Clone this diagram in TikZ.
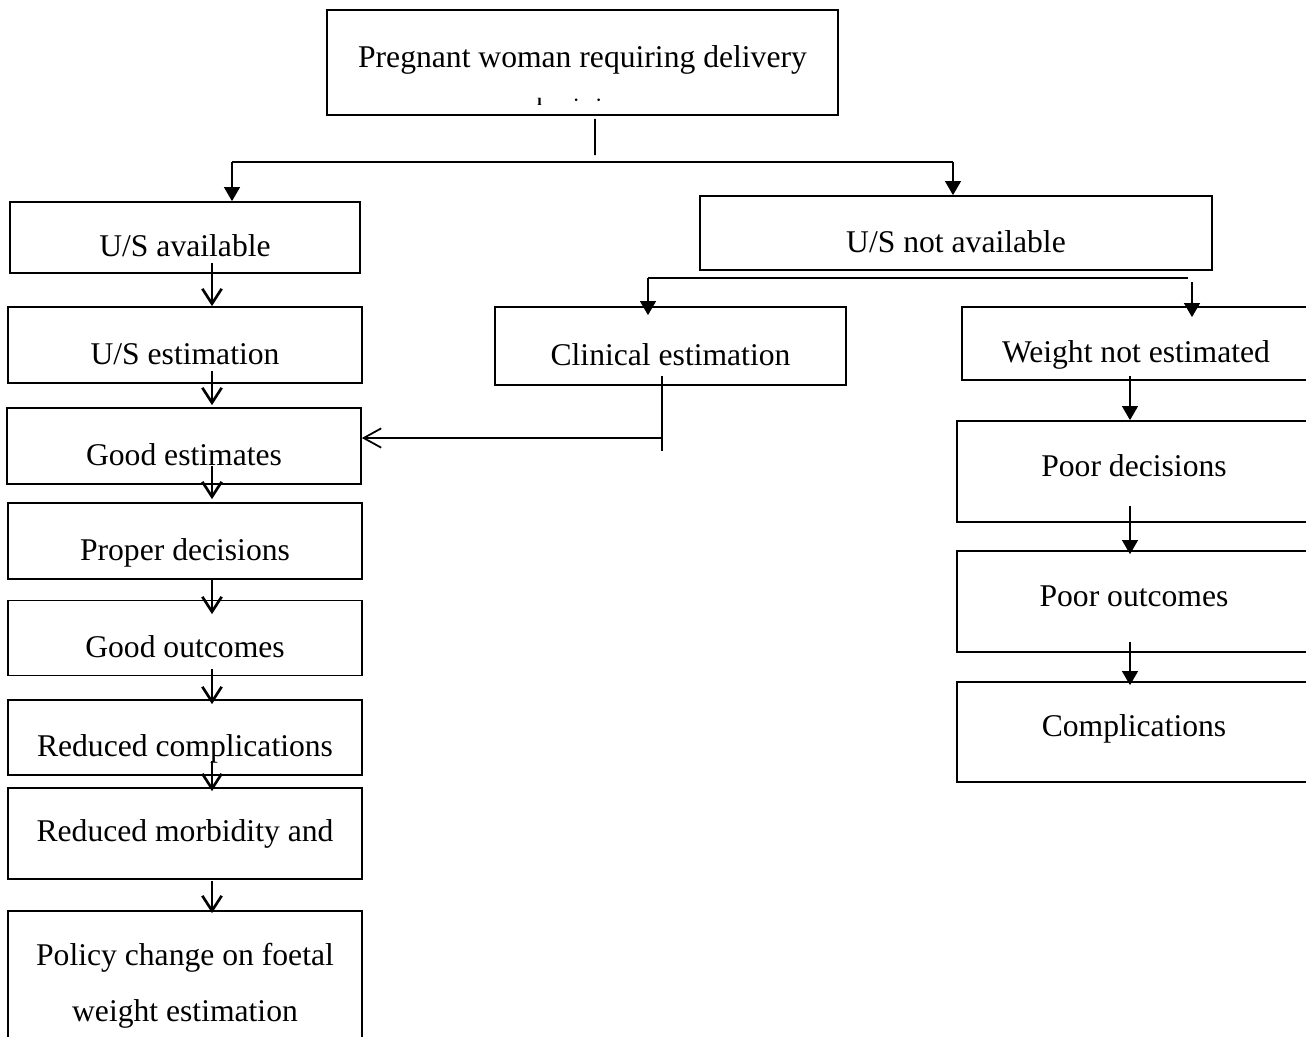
\documentclass[tikz,border=0pt]{standalone}
\usepackage{fontspec}
\setmainfont{Liberation Serif}
\usetikzlibrary{arrows.meta}

\tikzset{
  box/.style={draw, line width=1pt, inner sep=0pt, font=\fontsize{18pt}{32pt}\selectfont},
  boxlow/.style={box, text height=24pt, text depth=2pt},
  boxmid/.style={box, text height=10pt, text depth=4.4pt},
  varrow/.style={line width=1.5pt, -{Straight Barb[length=8.5pt,width=11pt]}},
  farrow/.style={line width=1.1pt, -{Triangle[length=8pt,width=9pt]}},
  barrow/.style={line width=1pt, -{Straight Barb[length=10pt,width=11pt]}},
}

\begin{document}
\begin{tikzpicture}[x=0.02cm, y=-0.02cm]
    % Marco de la figura
    \useasboundingbox (0,0) rectangle (1306,1036);
    \fill[white] (0,0) rectangle (1306,1036);
    \clip (0,0) rectangle (1306,1036);

    % Caja superior
    \node[boxmid, minimum width=10.22cm, minimum height=2.1cm] (preg) at (582.5,62.5) {Pregnant woman requiring delivery};
    \node[anchor=base west, inner sep=0pt, font=\fontsize{9pt}{9pt}\selectfont\bfseries] (frag) at (537,105) {ı\hspace{0.64cm}·\hspace{0.34cm}·};

    % Columna izquierda
    \node[boxlow, minimum width=7cm, minimum height=1.42cm] (usa) at (185,237.5) {U/S available};
    \node[boxlow, minimum width=7.08cm, minimum height=1.52cm] (use) at (185,345) {U/S estimation};
    \node[boxlow, minimum width=7.08cm, minimum height=1.52cm] (good) at (184,446) {Good estimates};
    \node[boxlow, minimum width=7.08cm, minimum height=1.52cm] (prop) at (185,541) {Proper decisions};
    \node[boxlow, minimum width=7.08cm, minimum height=1.5cm] (gout) at (185,638) {Good outcomes};
    \node[boxlow, minimum width=7.08cm, minimum height=1.5cm] (redc) at (185,737.5) {Reduced complications};
    \node[box, text height=12pt, text depth=3pt, minimum width=7.08cm, minimum height=1.82cm] (redm) at (185,833.5) {Reduced morbidity and};
    \node[box, align=center, minimum width=7.08cm, minimum height=3cm] (pol) at (185,986) {Policy change on foetal\\ weight estimation};

    % Columna central y derecha
    \node[boxlow, minimum width=10.24cm, minimum height=1.48cm] (usn) at (956,233) {U/S not available};
    \node[boxlow, minimum width=7.02cm, minimum height=1.56cm] (clin) at (670.5,346) {Clinical estimation};
    \node[boxlow, minimum width=6.96cm, minimum height=1.46cm] (wne) at (1136,343.5) {Weight not estimated};
    \node[boxmid, minimum width=7.08cm, minimum height=2.02cm] (pdec) at (1134,471.5) {Poor decisions};
    \node[boxmid, minimum width=7.08cm, minimum height=2.02cm] (pout) at (1134,601.5) {Poor outcomes};
    \node[boxmid, minimum width=7.08cm, minimum height=2cm] (comp) at (1134,732) {Complications};

    % Puntos de reparto
    \coordinate (split) at (595,162);
    \coordinate (splitl) at (232,162);
    \coordinate (splitr) at (953,162);
    \coordinate (usplit) at (648,278);
    \coordinate (usplitr) at (1188,278);
    \coordinate (cbend) at (662,438);

    % Reparto desde la caja superior
    \draw[line width=1pt] ([shift={(12.5,3)}]preg.south) -- ([shift={(0,-7)}]split);
    \draw[line width=1pt] (splitl) -- (splitr);
    \draw[farrow] (splitl) -- (usa.north -| splitl);
    \draw[farrow] (splitr) -- (usn.north -| splitr);

    % Reparto desde U/S not available
    \draw[line width=1pt] (usplit) -- (usplitr);
    \draw[farrow] (usplit) -- ([shift={(-22.5,9)}]clin.north);
    \draw[farrow] ([shift={(56,-24)}]wne.north) -- ([shift={(56,11)}]wne.north);

    % De la estimación clínica a buenas estimaciones
    \draw[line width=1pt] ([shift={(-8.5,-10)}]clin.south) -- ([shift={(-8.5,65)}]clin.south);
    \draw[barrow] (cbend) -- (good.east |- cbend);

    % Flechas de la columna izquierda
    \draw[varrow] ([shift={(27,-11)}]usa.south) -- ([shift={(27,0)}]use.north);
    \draw[varrow] ([shift={(27,-13)}]use.south) -- ([shift={(28,-2)}]good.north);
    \draw[varrow] ([shift={(28,-19)}]good.south) -- ([shift={(27,-3)}]prop.north);
    \draw[varrow] ([shift={(27,0)}]prop.south) -- ([shift={(27,14.5)}]gout.north);
    \draw[varrow] ([shift={(27,-7.5)}]gout.south) -- ([shift={(27,5)}]redc.north);
    \draw[varrow] ([shift={(27,-15)}]redc.south) -- ([shift={(27,4)}]redm.north);
    \draw[varrow] ([shift={(27,1)}]redm.south) -- ([shift={(27,3)}]pol.north);

    % Flechas de la columna derecha
    \draw[farrow] ([shift={(-6,-5)}]wne.south) -- ([shift={(-4,0)}]pdec.north);
    \draw[farrow] ([shift={(-4,-17)}]pdec.south) -- ([shift={(-4,4)}]pout.north);
    \draw[farrow] ([shift={(-4,-11)}]pout.south) -- ([shift={(-4,4)}]comp.north);
\end{tikzpicture}
\end{document}
